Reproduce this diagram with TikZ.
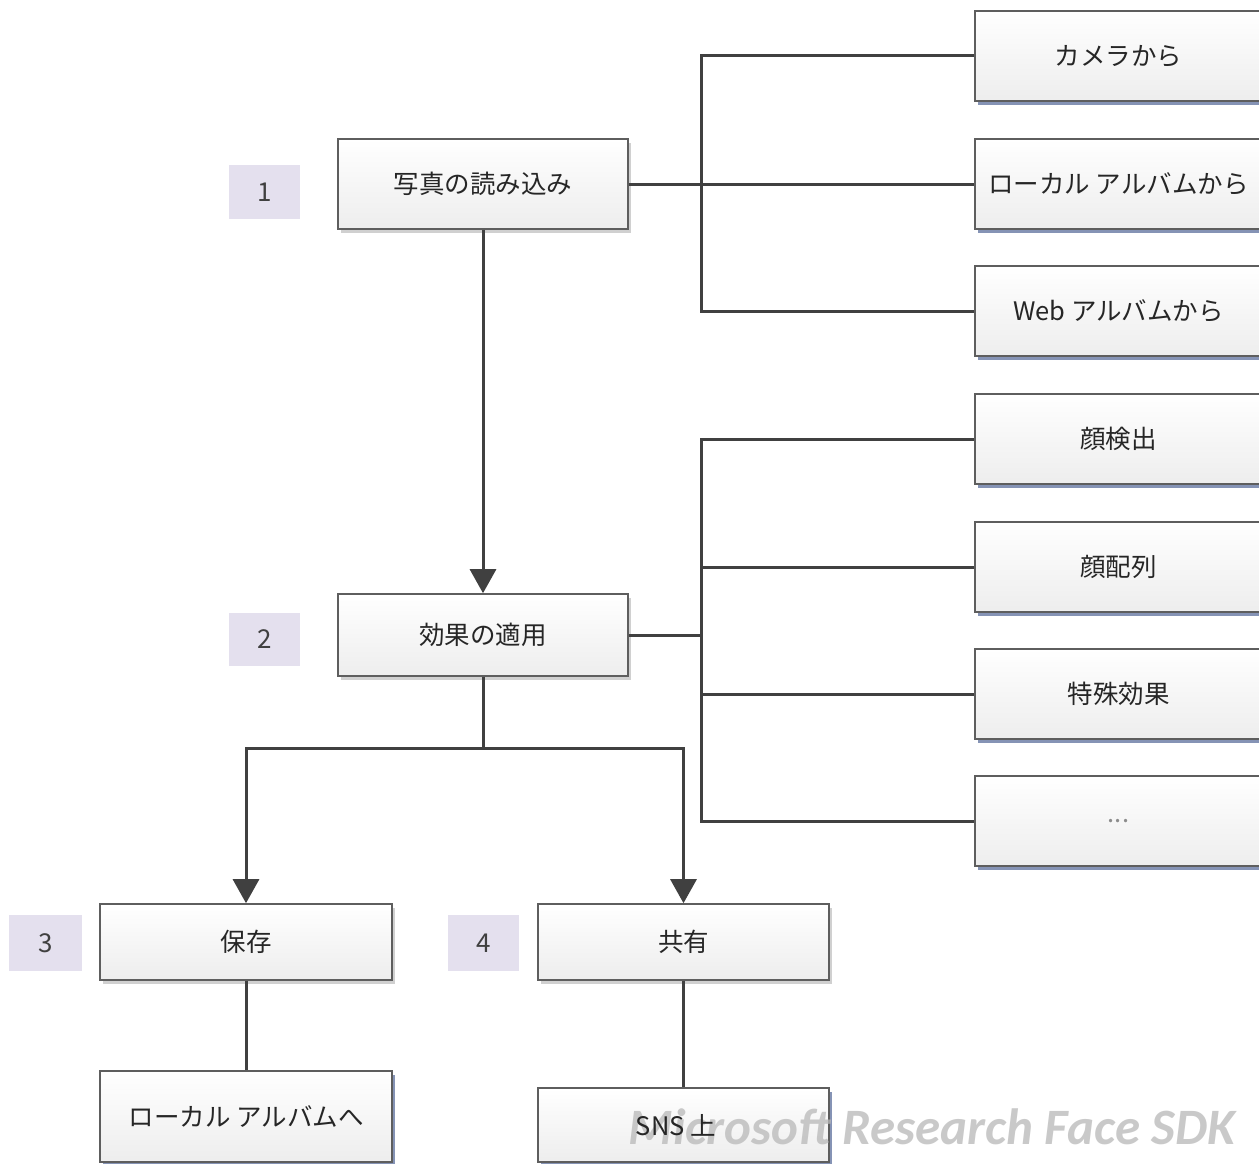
\documentclass[tikz,border=0pt]{standalone}
\usepackage{fontspec}
\newfontfamily\jp{Noto Sans CJK JP}
\newfontfamily\wmfont{Carlito}
\usetikzlibrary{arrows.meta,shadows}
\definecolor{linec}{HTML}{404040}
\definecolor{boxline}{HTML}{5E5E5E}
\definecolor{numfill}{HTML}{E4E0EE}
\definecolor{shgray}{HTML}{D0D0D0}
\definecolor{shblue}{HTML}{8593B5}
\tikzset{
  box/.style={draw=boxline, line width=1.6pt, top color=white, bottom color=black!7,
    font=\jp\fontsize{25.5}{25.5}\selectfont, text=black!85, inner sep=0pt,
    general shadow={fill=shgray, shadow xshift=3pt, shadow yshift=-4pt}},
  leaf/.style={box, general shadow={fill=shblue, shadow xshift=3pt, shadow yshift=-4pt}},
  num/.style={fill=numfill, inner sep=0pt, font=\jp\fontsize{26}{26}\selectfont, text=linec},
  conn/.style={draw=linec, line width=3pt},
  arr/.style={conn, -{Triangle[width=26pt,length=24pt]}},
}
\begin{document}
\begin{tikzpicture}[x=1pt,y=-1pt]
\path[use as bounding box] (0,0) rectangle (1259,1164);
\clip (0,0) rectangle (1259,1164);
\fill[white] (0,0) rectangle (1259,1164);
% main steps
\node[box, minimum width=290pt, minimum height=90pt] (n1) at (483,184) {写真の読み込み};
\node[box, minimum width=290pt, minimum height=82pt] (n2) at (483,635) {効果の適用};
\node[box, minimum width=292pt, minimum height=76pt] (n3) at (246,942) {保存};
\node[box, minimum width=291pt, minimum height=76pt] (n4) at (683.5,942) {共有};
% number tags
\node[num, minimum width=71pt, minimum height=54pt] (l1) at (264.5,192) {1};
\node[num, minimum width=71pt, minimum height=53pt] (l2) at (264.5,639.5) {2};
\node[num, minimum width=73pt, minimum height=56pt] (l3) at (45.5,943) {3};
\node[num, minimum width=71pt, minimum height=56pt] (l4) at (483.5,943) {4};
% right leaves
\node[leaf, minimum width=287pt, minimum height=90pt] (c1) at (1118.5,56) {カメラから};
\node[leaf, minimum width=287pt, minimum height=90pt] (c2) at (1118.5,184) {ローカル アルバムから};
\node[leaf, minimum width=287pt, minimum height=90pt] (c3) at (1118.5,311) {Web アルバムから};
\node[leaf, minimum width=287pt, minimum height=90pt] (e1) at (1118.5,439) {顔検出};
\node[leaf, minimum width=287pt, minimum height=90pt] (e2) at (1118.5,567) {顔配列};
\node[leaf, minimum width=287pt, minimum height=90pt] (e3) at (1118.5,694) {特殊効果};
\node[leaf, minimum width=287pt, minimum height=90pt] (e4) at (1118.5,821) {\textcolor{black!45}{...}};
% bottom leaves
\node[leaf, minimum width=292pt, minimum height=91pt] (s3) at (246,1116.5) {ローカル アルバムへ};
\node[leaf, minimum width=291pt, minimum height=74pt] (s4) at (683.5,1125) {};
% buses
\coordinate (b1) at (701,184);
\coordinate (j) at (483,748);
\draw[conn] (n1.east) -- (c2.west);
\draw[conn] (c1.west) -- (c1.west -| b1) -- (c3.west -| b1) -- (c3.west);
\draw[conn] (n2.east) -- (n2.east -| b1);
\draw[conn] (e1.west) -- (e1.west -| b1) -- (e4.west -| b1) -- (e4.west);
\draw[conn] (e2.west) -- (e2.west -| b1);
\draw[conn] (e3.west) -- (e3.west -| b1);
\draw[arr] (n1.south) -- (n2.north);
\draw[conn] (n2.south) -- (j);
\draw[arr] (j) -| (n3.north);
\draw[arr] (j) -| (n4.north);
\draw[conn] (n3.south) -- (s3.north);
\draw[conn] (n4.south) -- (s4.north);
% watermark
\node[font=\wmfont\bfseries\itshape\fontsize{51}{51}\selectfont, text=black!28, opacity=0.75, inner sep=0pt] (wm) at (932,1127) {Microsoft Research Face SDK};
\node[font=\jp\fontsize{25.5}{25.5}\selectfont, text=black!85, inner sep=0pt] (s4t) at (676,1125) {SNS 上};
\end{tikzpicture}
\end{document}
